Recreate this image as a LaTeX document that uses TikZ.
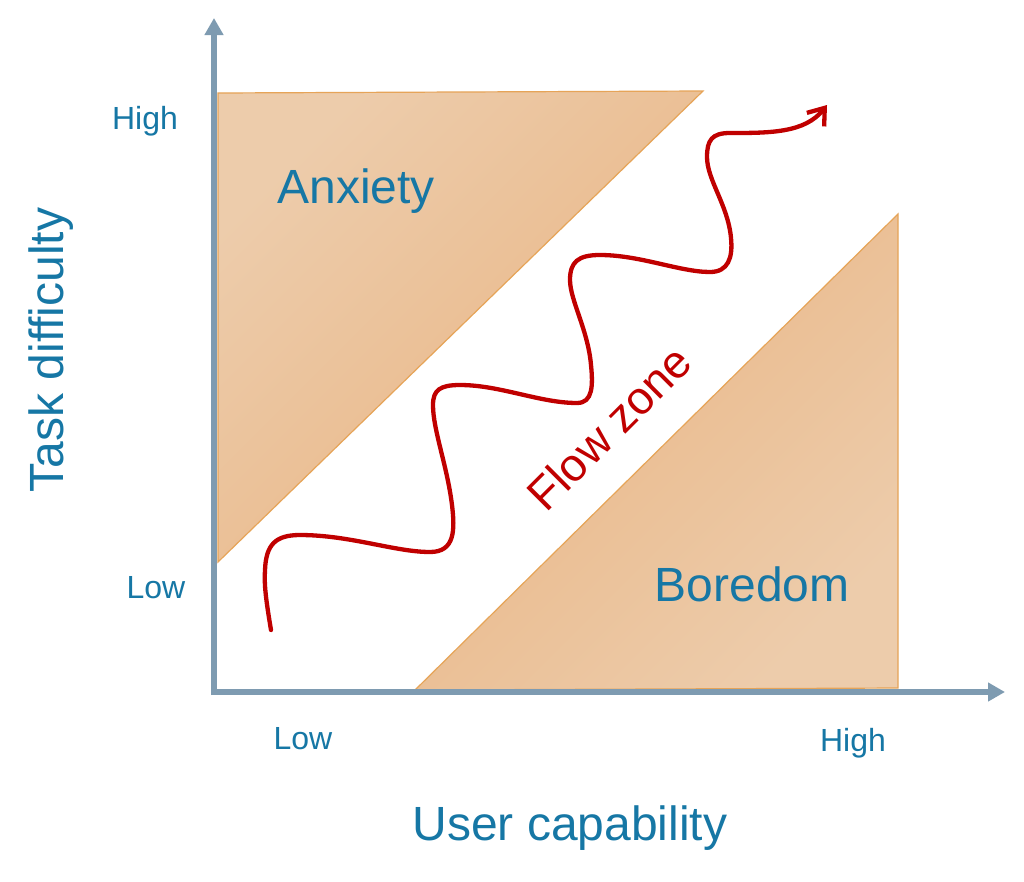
\documentclass[tikz,border=0pt]{standalone}
\usepackage{fontspec}
\setmainfont{Liberation Sans}
\usetikzlibrary{arrows.meta}
\definecolor{axiscol}{HTML}{7E9BB1}
\definecolor{txtcol}{HTML}{1677A5}
\definecolor{flowred}{HTML}{C00000}
\definecolor{zlight}{HTML}{EDCCAB}
\definecolor{zdark}{HTML}{E8B482}
\definecolor{zedge}{HTML}{E6A458}
\tikzset{
  axisline/.style={draw=axiscol, line width=6pt, -{Triangle[length=17pt,width=18pt]}},
  zone/.style={draw=zedge, line width=1.2pt, line join=miter},
  bigtxt/.style={text=txtcol, font=\fontsize{48}{58}\selectfont, inner sep=0pt, anchor=base},
  ticktxt/.style={text=txtcol, font=\fontsize{32}{38}\selectfont, inner sep=0pt, anchor=base},
  flowline/.style={draw=flowred, line width=4.3pt, line cap=round, -{Straight Barb[length=15pt,width=22pt]}}
}
\begin{document}
\begin{tikzpicture}[x=1pt,y=-1pt]
\useasboundingbox[fill=white] (0,0) rectangle (1024,881);
% zones
\shade[zone, top color=zlight, bottom color=zdark, shading angle=45]
  (218,93) -- (703,91) -- (218,562) -- cycle;
\shade[zone, top color=zdark, bottom color=zlight, shading angle=45]
  (415,690) -- (898,688) -- (898,214) -- cycle;
% axes
\coordinate (O) at (214,695);
\coordinate (Oh) at (211,692);
\coordinate (ytip) at (214,18);
\coordinate (xtip) at (1005,692);
\draw[axisline] (O) -- (ytip);
\draw[axisline] (Oh) -- (xtip);
% flow curve
\coordinate (fstart) at (271,630);
\coordinate (fend) at (827,105);
\draw[flowline] (fstart)
  .. controls (266,600) and (264,585) .. (265,570)
  .. controls (266,545) and (275,535) .. (300,535)
  .. controls (350,535) and (395,552) .. (430,552)
  .. controls (455,552) and (455,530) .. (452,505)
  .. controls (447,465) and (433,430) .. (433,405)
  .. controls (433,390) and (440,385) .. (460,385)
  .. controls (500,385) and (540,403) .. (577,403)
  .. controls (593,403) and (593,385) .. (591,365)
  .. controls (588,330) and (570,300) .. (570,280)
  .. controls (570,262) and (578,255) .. (600,255)
  .. controls (640,255) and (680,272) .. (710,272)
  .. controls (728,272) and (733,258) .. (731,238)
  .. controls (728,205) and (707,180) .. (707,157)
  .. controls (707,140) and (712,133) .. (730,133)
  .. controls (770,133) and (805,133) .. (fend);
% labels
\node[bigtxt] (anx) at (356,203) {Anxiety};
\node[bigtxt] (bor) at (752,601) {Boredom};
\node[bigtxt, rotate=90] (ylab) at (63,350) {Task difficulty};
\node[bigtxt] (xlab) at (570,840) {User capability};
\node[bigtxt, text=flowred, rotate=45, font=\fontsize{46}{54}\selectfont] (flow) at (621,439) {Flow zone};
\node[ticktxt] (yhigh) at (145,129) {High};
\node[ticktxt] (ylow) at (156,598) {Low};
\node[ticktxt] (xlow) at (303,749) {Low};
\node[ticktxt] (xhigh) at (853,751) {High};
\end{tikzpicture}
\end{document}
